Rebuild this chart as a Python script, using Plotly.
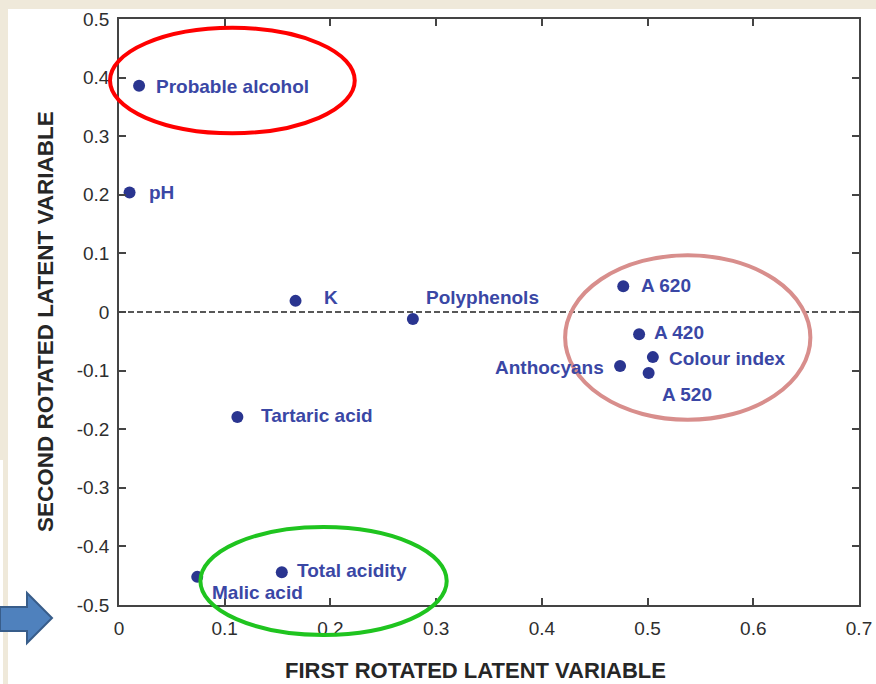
import plotly.graph_objects as go

# ---- data ----
variables = ["Probable alcohol", "pH", "K", "Polyphenols", "Tartaric acid",
             "A 620", "A 420", "Colour index", "Anthocyans", "A 520",
             "Total acidity", "Malic acid"]
lv1 = [0.019, 0.010, 0.167, 0.278, 0.112, 0.477, 0.492, 0.505, 0.474, 0.501, 0.154, 0.074]
lv2 = [0.386, 0.204, 0.019, -0.012, -0.179, 0.044, -0.038, -0.077, -0.092, -0.104, -0.444, -0.452]

x_ticks = [0, 0.1, 0.2, 0.3, 0.4, 0.5, 0.6, 0.7]
x_ticktext = ["0", "0.1", "0.2", "0.3", "0.4", "0.5", "0.6", "0.7"]
y_ticks = [0.5, 0.4, 0.3, 0.2, 0.1, 0, -0.1, -0.2, -0.3, -0.4, -0.5]
y_ticktext = ["0.5", "0.4", "0.3", "0.2", "0.1", "0", "-0.1", "-0.2", "-0.3", "-0.4", "-0.5"]

# label placement (xanchor, x offset px, y offset px downward)
label_offsets = {
    "Probable alcohol": ("left", 15, 1),
    "pH": ("left", 17, 0),
    "K": ("left", 26, -3),
    "Polyphenols": ("left", 11, -22),
    "Tartaric acid": ("left", 22, -1),
    "A 620": ("left", 16, -1),
    "A 420": ("left", 13, -2),
    "Colour index": ("left", 14, 1),
    "Anthocyans": ("right", -14, 2),
    "A 520": ("left", 11, 22),
    "Total acidity": ("left", 13, -2),
    "Malic acid": ("left", 13, 16),
}

W, H = 876, 684
L, R, T, B = 119, 17, 19, 79
XR = (0, 0.7)
YR = (-0.5, 0.5)
FONT = "Liberation Sans, Arial, Helvetica, sans-serif"
DOT = "#2a3590"
TXT = "#3a47a5"
BEIGE = "#efe9da"


def px_x(p):
    return (p - L) / (W - L - R)


def px_y(p):
    return (H - B - p) / (H - T - B)


def dx(v):
    return (v - XR[0]) / (XR[1] - XR[0])


def dy(v):
    return (v - YR[0]) / (YR[1] - YR[0])


fig = go.Figure()
fig.add_trace(go.Scatter(
    x=lv1, y=lv2, mode="markers",
    marker=dict(size=12, color=DOT, line=dict(width=0)),
    hoverinfo="text", text=variables, showlegend=False, cliponaxis=False,
))

annotations = []
for name, xv, yv in zip(variables, lv1, lv2):
    anc, ox, oy = label_offsets[name]
    annotations.append(dict(
        x=xv, y=yv, xref="x", yref="y", text=name, showarrow=False,
        xanchor=anc, yanchor="middle", xshift=ox, yshift=-oy,
        font=dict(family=FONT, size=19, color=TXT, weight="bold"),
    ))

# axis titles
annotations.append(dict(
    x=px_x(475), y=px_y(671), xref="paper", yref="paper",
    text="FIRST ROTATED LATENT VARIABLE", showarrow=False,
    xanchor="center", yanchor="middle",
    font=dict(family=FONT, size=22, color="#262626", weight="bold"),
))
annotations.append(dict(
    x=px_x(45), y=px_y(322), xref="paper", yref="paper",
    text="SECOND ROTATED LATENT VARIABLE", showarrow=False, textangle=-90,
    xanchor="center", yanchor="middle",
    font=dict(family=FONT, size=22.5, color="#262626", weight="bold"),
))

shapes = [
    # slide background strips
    dict(type="rect", xref="paper", yref="paper", x0=px_x(0), x1=px_x(W),
         y0=px_y(0), y1=px_y(9), fillcolor=BEIGE, line=dict(width=0), layer="below"),
    dict(type="rect", xref="paper", yref="paper", x0=px_x(0), x1=px_x(8),
         y0=px_y(0), y1=px_y(H), fillcolor=BEIGE, line=dict(width=0), layer="below"),
    dict(type="rect", xref="paper", yref="paper", x0=px_x(0), x1=px_x(3),
         y0=px_y(460), y1=px_y(H), fillcolor="white", line=dict(width=0), layer="below"),
    # dashed zero line
    dict(type="line", xref="paper", yref="y", x0=0, x1=1, y0=0, y1=0,
         line=dict(color="#222222", width=1.3, dash="6px,3px"), layer="below"),
    # ellipses
    dict(type="circle", xref="paper", yref="paper",
         x0=dx(-0.0085), x1=dx(0.223), y0=dy(0.305), y1=dy(0.485),
         line=dict(color="#ff0000", width=4)),
    dict(type="circle", xref="paper", yref="paper",
         x0=dx(0.422), x1=dx(0.654), y0=dy(-0.184), y1=dy(0.097),
         line=dict(color="#d88e8c", width=4)),
    dict(type="circle", xref="paper", yref="paper",
         x0=dx(0.077), x1=dx(0.310), y0=dy(-0.551), y1=dy(-0.367),
         line=dict(color="#1fc41f", width=4)),
]

# block arrow at bottom-left
arrow_pts = [(0, 607), (27, 607), (27, 593), (52, 618), (27, 643), (27, 631), (0, 631)]
path = "M " + " L ".join(f"{px_x(a):.5f},{px_y(b):.5f}" for a, b in arrow_pts) + " Z"
shapes.append(dict(type="path", xref="paper", yref="paper", path=path,
                   fillcolor="#4f81bd", line=dict(color="#385d8a", width=2)))

axis_common = dict(
    showline=True, linecolor="#444444", linewidth=1.5, mirror="ticks",
    ticks="inside", ticklen=7, tickwidth=1.5, tickcolor="#444444",
    showgrid=False, zeroline=False, automargin=False,
    tickfont=dict(family=FONT, size=19, color="#2e2e2e"),
)

fig.update_layout(
    width=W, height=H,
    margin=dict(l=L, r=R, t=T, b=B, pad=0, autoexpand=False),
    paper_bgcolor="white", plot_bgcolor="white",
    xaxis=dict(range=list(XR), tickvals=x_ticks, ticktext=x_ticktext,
               ticklabelstandoff=5, **axis_common),
    yaxis=dict(range=list(YR), tickvals=y_ticks, ticktext=y_ticktext,
               ticklabelstandoff=4, **axis_common),
    annotations=annotations, shapes=shapes, showlegend=False,
)

fig.write_html(
    "out.html",
    config={"displayModeBar": False},
    post_script="document.body.style.margin='0';document.body.style.overflow='hidden';",
)
